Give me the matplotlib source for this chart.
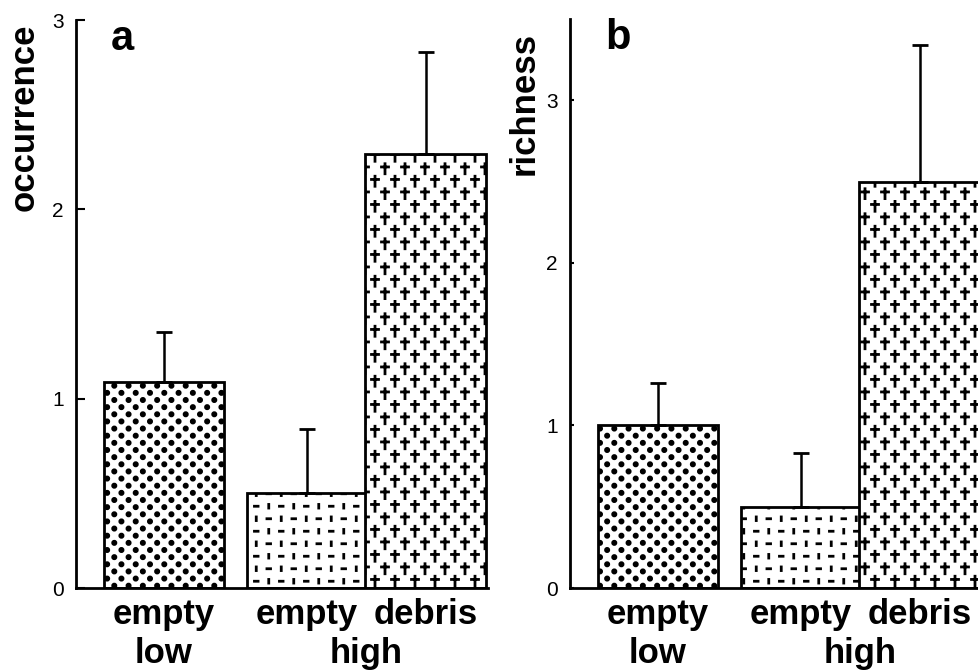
import matplotlib
matplotlib.use('Agg')
import matplotlib.pyplot as plt
import numpy as np
from matplotlib.path import Path
from matplotlib import hatch as mhatch

plt.rcParams['font.family'] = ['Liberation Sans', 'DejaVu Sans']
plt.rcParams['hatch.linewidth'] = 2.0
plt.rcParams['hatch.color'] = 'black'

# data
categories = ['empty', 'empty', 'debris']
groups = ['low', 'high']
group_members = [[0], [1, 2]]
bar_x = [0.0, 1.19, 2.18]
occurrence = [1.09, 0.50, 2.29]
occurrence_err = [0.26, 0.34, 0.54]
richness = [1.00, 0.50, 2.50]
richness_err = [0.26, 0.33, 0.84]
yticks = [0, 1, 2, 3]


# old-print style fill patterns (unit tile = 1 inch)
def dots_path():
    n, r = 7, 0.016
    paths = []
    for row in range(2 * n + 1):
        y = row / (2 * n)
        if row % 2 == 0:
            xs = np.arange(n + 1) / n
        else:
            xs = (np.arange(n) + 0.5) / n
        paths += [Path.circle((x, y), r) for x in xs]
    return Path.make_compound_path(*paths)


def ticks_path():
    n, h = 8, 0.018
    verts, codes = [], []
    for i in range(n):
        for j in range(n):
            cx, cy = (i + 0.5) / n, (j + 0.5) / n
            if (i + j) % 2:
                verts += [(cx - h, cy), (cx + h, cy)]
            else:
                verts += [(cx, cy - h), (cx, cy + h)]
            codes += [Path.MOVETO, Path.LINETO]
    return Path(verts, codes)


def crosses_path():
    nx, ny = 5, 8
    verts, codes = [], []
    for j in range(ny):
        for i in range(nx):
            cx = (i + 0.25 + 0.5 * (j % 2)) / nx
            cy = (j + 0.5) / ny
            verts += [(cx, cy - 0.05), (cx, cy + 0.05),
                      (cx - 0.035, cy + 0.018), (cx + 0.035, cy + 0.018)]
            codes += [Path.MOVETO, Path.LINETO, Path.MOVETO, Path.LINETO]
    return Path(verts, codes)


custom_hatches = {'o': dots_path(), '|': ticks_path(), '+': crosses_path()}
_orig_get_path = mhatch.get_path


def _get_path(pattern, density=6):
    if pattern in custom_hatches:
        return custom_hatches[pattern]
    return _orig_get_path(pattern, density)


mhatch.get_path = _get_path
hatches = ['o', '|', '+']


def draw_panel(ax, values, errs, ymax, letter, ylabel, label_pos, ticklen):
    bars = ax.bar(bar_x, values, width=1.0, color='white', edgecolor='black',
                  linewidth=2.0, zorder=2)
    for b, h in zip(bars, hatches):
        b.set_hatch(h)
    ax.errorbar(bar_x, values, yerr=[np.zeros(len(values)), errs], fmt='none',
                ecolor='black', elinewidth=1.8, capsize=6, capthick=2, zorder=3)

    ax.set_xlim(-0.73, 2.70)
    ax.set_ylim(0, ymax)
    for s in ['top', 'right']:
        ax.spines[s].set_visible(False)
    for s in ['left', 'bottom']:
        ax.spines[s].set_linewidth(2)

    ax.set_yticks(yticks)
    ax.tick_params(axis='y', direction='in', length=ticklen, width=1.5,
                   labelsize=15, pad=9)
    ax.set_xticks(bar_x, categories, fontsize=25, fontweight='bold')
    ax.tick_params(axis='x', length=0, pad=7)

    for name, members in zip(groups, group_members):
        gx = np.mean([bar_x[m] for m in members])
        ax.annotate(name, xy=(gx, 0), xycoords=('data', 'axes fraction'),
                    xytext=(0, -54), textcoords='offset points',
                    ha='center', va='baseline', fontsize=25, fontweight='bold')

    ax.set_ylabel(ylabel, loc='top', fontsize=25, fontweight='bold')
    ax.yaxis.set_label_coords(*label_pos)
    ax.text(0.085, 0.947, letter, transform=ax.transAxes, fontsize=30,
            fontweight='bold', ha='left', va='baseline')


fig = plt.figure(figsize=(9.79, 6.70), dpi=100)
fig.set_facecolor('w')
ax_a = fig.add_axes([76 / 979, 82 / 670, 412 / 979, 568 / 670])
ax_b = fig.add_axes([570 / 979, 82 / 670, 412 / 979, 569 / 670])

draw_panel(ax_a, occurrence, occurrence_err, 3.0, 'a', 'occurrence',
           (-0.086, 0.993), 6.5)
draw_panel(ax_b, richness, richness_err, 3.5, 'b', 'richness',
           (-0.071, 0.978), 3)

fig.savefig('out.png', dpi=100)
